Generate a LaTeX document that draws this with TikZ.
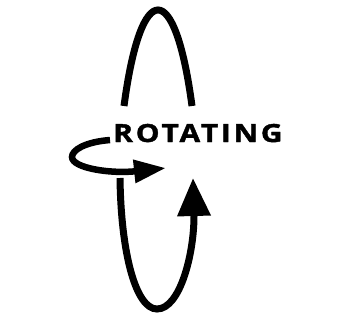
\documentclass[tikz,border=0pt]{standalone}
\usepackage{fontspec}
\setsansfont{Open Sans}
\usetikzlibrary{arrows.meta}
\begin{document}
\begin{tikzpicture}[x=1pt,y=1pt,
    axis stroke/.style={line width=7pt},
    spin stroke/.style={line width=6.5pt}]
  \useasboundingbox (0,0) rectangle (344,324);
  % upper half of the vertical loop
  \coordinate (top start) at (124,218);
  \coordinate (top end) at (192,218);
  \draw[axis stroke] (top start) .. controls (141,346) and (175,346) .. (top end);
  % lower half, ending in the big arrow
  \coordinate (low start) at (120,146);
  \coordinate (low bottom) at (157,15);
  \coordinate (low tip) at (193,146);
  \draw[axis stroke, -{Triangle[length=38pt,width=32pt]}] (low start)
    .. controls (121,70) and (136,15) .. (low bottom)
    .. controls (180,15) and (194,70) .. (194,108) -- (low tip);
  \node[anchor=base west, inner sep=0,
    font=\sffamily\bfseries\fontsize{25}{25}\selectfont\addfontfeature{LetterSpace=11,FakeStretch=1.2,FakeBold=1.5}]
    (label) at (113,182) {ROTATING};
  % small loop round the axis
  \coordinate (spin start) at (110,184);
  \coordinate (spin tip) at (166,156);
  \draw[spin stroke, -{Triangle[length=32pt,width=22pt]}] (spin start)
    .. controls (85,182) and (72,174) .. (72,167)
    .. controls (72,156) and (110,150) .. (spin tip);
\end{tikzpicture}
\end{document}
